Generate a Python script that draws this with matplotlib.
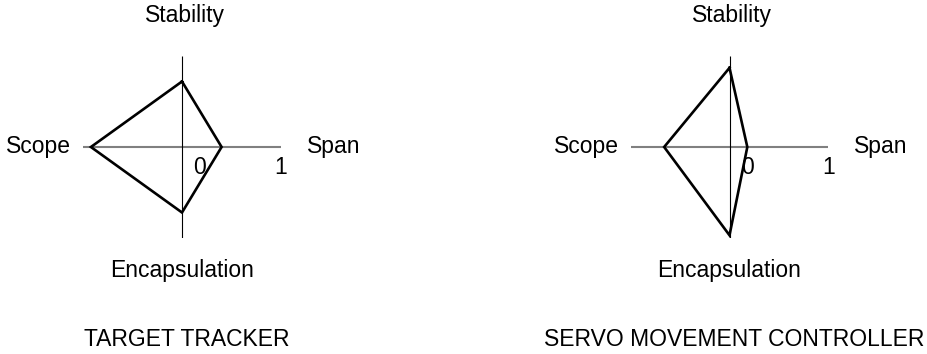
import numpy as np
import matplotlib
matplotlib.use("Agg")
import matplotlib.pyplot as plt

plt.rcParams['font.family'] = ['Liberation Sans', 'DejaVu Sans']

# Axis names, clockwise from the top
categories = ['Stability', 'Span', 'Encapsulation', 'Scope']
angles_deg = [90, 0, 270, 180]

# Values (scale 0..1)
target_tracker = [0.72, 0.40, 0.72, 0.92]
servo_controller = [0.87, 0.18, 0.97, 0.66]

titles = ['TARGET TRACKER', 'SERVO MOVEMENT CONTROLLER']
series = [target_tracker, servo_controller]

W, H = 928, 354
fig = plt.figure(figsize=(W / 100, H / 100), dpi=100)

# pixel centre of each diagram, and px per unit (x, y)
centres = [182, 729.5]
cy = 147
sx, sy = 99, 91

ang = np.radians(angles_deg)

for cx, vals, title in zip(centres, series, titles):
    ax = fig.add_axes([(cx - sx) / W, (H - cy - sy) / H, 2 * sx / W, 2 * sy / H])
    ax.set_xlim(-1, 1)
    ax.set_ylim(-1, 1)
    ax.axis('off')

    # axis lines
    ax.plot([-1, 1], [0, 0], color='#808080', lw=1.5, solid_capstyle='butt')
    ax.plot([0, 0], [-1, 1], color='black', lw=0.8, solid_capstyle='butt')

    # the polygon
    v = np.array(vals)
    xs = v * np.cos(ang)
    ys = v * np.sin(ang)
    ax.plot(np.append(xs, xs[0]), np.append(ys, ys[0]), color='black', lw=1.9,
            solid_joinstyle='miter')

    fs = 16.5
    ax.text(0.03, 1.45, categories[0], ha='center', va='center', fontsize=fs, clip_on=False)
    ax.text(1.26, 0, categories[1], ha='left', va='center', fontsize=fs, clip_on=False)
    ax.text(0, -1.36, categories[2], ha='center', va='center', fontsize=fs, clip_on=False)
    ax.text(-1.12, 0, categories[3], ha='right', va='center', fontsize=fs, clip_on=False)
    ax.text(0.18, -0.22, '0', ha='center', va='center', fontsize=fs, clip_on=False)
    ax.text(1.0, -0.22, '1', ha='center', va='center', fontsize=fs, clip_on=False)
    ax.text(0.05, -2.12, title, ha='center', va='center', fontsize=fs, clip_on=False)

fig.savefig('out.png', dpi=100, facecolor='white')
